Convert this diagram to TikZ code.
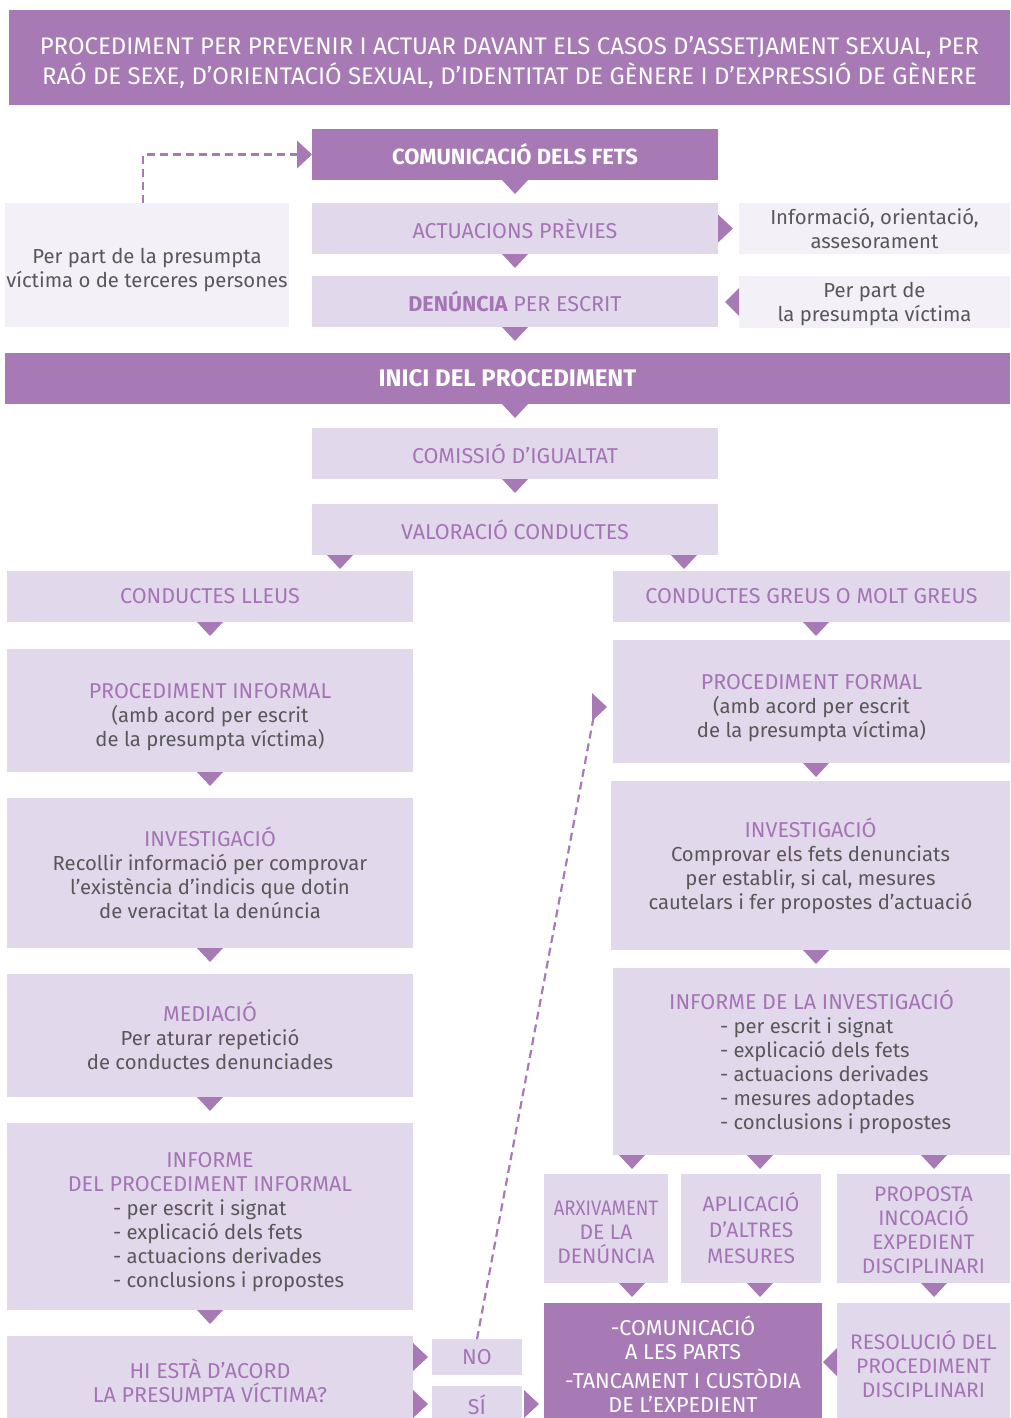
\documentclass[tikz,border=0pt]{standalone}
\usepackage{fontspec}
\usepackage{graphicx}
\setmainfont{Fira Sans}
\definecolor{dk}{RGB}{167,122,181}
\definecolor{lt}{RGB}{226,216,236}
\definecolor{pl}{RGB}{243,240,248}
\definecolor{gt}{RGB}{88,88,88}
\definecolor{pt}{RGB}{164,116,180}
\newcommand\hd[1]{{\color{pt}\fontsize{21.5}{24}\selectfont #1}}
\newcommand\hs[1]{{\color{pt}\fontsize{21}{24}\selectfont #1}}
\newcommand\lstL[1]{\makebox[194pt][l]{#1}}
\newcommand\lstR[1]{\makebox[183pt][l]{#1}}
\begin{document}
\begin{tikzpicture}[x=1pt,y=-1pt,
  box/.style={inner sep=0pt, outer sep=0pt, align=center, font=\fontsize{20.3}{24}\selectfont, text=gt},
  lab/.style={inner sep=0pt, outer sep=0pt, align=center, font=\fontsize{20.3}{24}\selectfont, text=gt},
  darkbox/.style={box, fill=dk, text=white},
  litebox/.style={box, fill=lt},
  palebox/.style={box, fill=pl},
  dashline/.style={draw=dk, line width=2.2pt, dash pattern=on 8pt off 5pt},
  tdown/.pic={\fill[dk] (-13,0) -- (13,0) -- (0,14) -- cycle;},
  tright/.pic={\fill[dk] (0,-14) -- (0,14) -- (15,0) -- cycle;},
  tleft/.pic={\fill[dk] (0,-14) -- (0,14) -- (-14,0) -- cycle;},
]
\useasboundingbox (0,0) rectangle (1010,1418);

% title
\node[darkbox, minimum width=1001pt, minimum height=95pt,
  label={[lab, text=white, font=\fontsize{24}{30}\selectfont, yshift=-5pt]center:{PROCEDIMENT PER  PREVENIR I ACTUAR DAVANT ELS CASOS D’ASSETJAMENT SEXUAL, PER\\RAÓ DE SEXE, D’ORIENTACIÓ SEXUAL, D’IDENTITAT DE GÈNERE I D’EXPRESSIÓ DE GÈNERE}}]
  (title) at (509.5,57.5) {};

% top block
\node[darkbox, minimum width=406pt, minimum height=51pt, font=\fontsize{22}{24}\selectfont\bfseries] (com) at (515,154.5) {COMUNICACIÓ DELS FETS};
\node[litebox, minimum width=406pt, minimum height=51pt] (act) at (515,228.5) {\hd{ACTUACIONS PRÈVIES}};
\node[litebox, minimum width=406pt, minimum height=51pt] (den) at (515,301.5) {\hd{{\bfseries DENÚNCIA} PER ESCRIT}};
\node[palebox, minimum width=284pt, minimum height=124pt,
  label={[lab, yshift=-5pt]center:{Per part de la presumpta\\víctima o de terceres persones}}] (per) at (147,265) {};
\node[palebox, minimum width=271pt, minimum height=51pt] (inf) at (874.5,228.5) {Informació, orientació,\\assesorament};
\node[palebox, minimum width=271pt, minimum height=52pt,
  label={[lab, yshift=-2pt]center:{Per part de\\la presumpta víctima}}] (ppv) at (874.5,302) {};

\node[darkbox, minimum width=1005pt, minimum height=51pt, font=\fontsize{24}{24}\selectfont\bfseries] (inici) at (507.5,378.5) {INICI DEL PROCEDIMENT};
\node[litebox, minimum width=406pt, minimum height=51pt] (comi) at (515,453.5) {\hd{COMISSIÓ D’IGUALTAT}};
\node[litebox, minimum width=406pt, minimum height=51pt] (val) at (515,529.5) {\hd{VALORACIÓ CONDUCTES}};

% left column
\node[litebox, minimum width=406pt, minimum height=51pt] (lleus) at (210,596.5) {\hd{CONDUCTES LLEUS}};
\node[litebox, minimum width=406pt, minimum height=123pt,
  label={[lab, yshift=-7pt]center:{\hd{PROCEDIMENT INFORMAL}\\(amb acord per escrit\\de la presumpta víctima)}}] (pinf) at (210,710.5) {};
\node[litebox, minimum width=406pt, minimum height=150pt] (inv1) at (210,873) {\hd{INVESTIGACIÓ}\\Recollir informació per comprovar\\l’existència d’indicis que dotin\\de veracitat la denúncia};
\node[litebox, minimum width=406pt, minimum height=123pt] (med) at (210,1035.5) {\hd{MEDIACIÓ}\\Per aturar repetició\\de conductes denunciades};
\node[litebox, minimum width=406pt, minimum height=187pt,
  label={[lab, yshift=-6pt]center:{\hd{INFORME}\\\hd{DEL PROCEDIMENT INFORMAL}\\\lstL{- per escrit i signat}\\\lstL{- explicació dels fets}\\\lstL{- actuacions derivades}\\\lstL{- conclusions i propostes}}}] (infp) at (210,1216.5) {};
\node[litebox, minimum width=406pt, minimum height=90pt] (acord) at (210,1381) {\hd{HI ESTÀ D’ACORD}\\\hd{LA PRESUMPTA VÍCTIMA?}};
\node[litebox, minimum width=90pt, minimum height=36pt] (no) at (477,1357) {\hd{NO}};
\node[litebox, minimum width=90pt, minimum height=38pt] (si) at (477,1405) {\hd{SÍ}};

% right column
\node[litebox, minimum width=397pt, minimum height=51pt] (greus) at (811.5,596.5) {\hd{CONDUCTES GREUS O MOLT GREUS}};
\node[litebox, minimum width=397pt, minimum height=123pt,
  label={[lab, yshift=-7pt]center:{\hd{PROCEDIMENT FORMAL}\\(amb acord per escrit\\de la presumpta víctima)}}] (pfor) at (811.5,701.5) {};
\node[litebox, minimum width=399pt, minimum height=169pt] (inv2) at (810.5,865.5) {\hd{INVESTIGACIÓ}\\Comprovar els fets denunciats\\per establir, si cal, mesures\\cautelars i fer propostes d’actuació};
\node[litebox, minimum width=397pt, minimum height=187pt] (infi) at (811.5,1061.5) {\hd{INFORME DE LA INVESTIGACIÓ}\\\lstR{- per escrit i signat}\\\lstR{- explicació dels fets}\\\lstR{- actuacions derivades}\\\lstR{- mesures adoptades}\\\lstR{- conclusions i propostes}};
\node[litebox, minimum width=124pt, minimum height=109pt,
  label={[lab, yshift=-4pt]center:{\hs{\scalebox{0.88}[1]{ARXIVAMENT}}\\\hs{DE LA}\\\hs{DENÚNCIA}}}] (arx) at (606,1228.5) {};
\node[litebox, minimum width=140pt, minimum height=109pt] (apl) at (751,1228.5) {\hs{APLICACIÓ}\\[2pt]\hs{D’ALTRES}\\[2pt]\hs{MESURES}};
\node[litebox, minimum width=173pt, minimum height=109pt,
  label={[lab, yshift=-2pt]center:{\hs{PROPOSTA}\\\hs{INCOACIÓ}\\\hs{EXPEDIENT}\\\hs{DISCIPLINARI}}}] (prop) at (923.5,1228.5) {};
\node[darkbox, minimum width=278pt, minimum height=123pt, font=\fontsize{21.5}{24}\selectfont] (comu) at (683,1364.5) {-COMUNICACIÓ\\A LES PARTS\\[5pt]-TANCAMENT I CUSTÒDIA\\DE L’EXPEDIENT};
\node[litebox, minimum width=173pt, minimum height=123pt] (res) at (923.5,1364.5) {\hs{RESOLUCIÓ DEL}\\\hs{PROCEDIMENT}\\\hs{DISCIPLINARI}};

% down triangles
\pic at (com.south) {tdown};
\pic at (act.south) {tdown};
\pic at (den.south) {tdown};
\pic at (com |- inici.south) {tdown};
\pic at (comi.south) {tdown};
\pic at (340,0 |- val.south) {tdown};
\pic at (684,0 |- val.south) {tdown};
\pic at (lleus.south) {tdown};
\pic at (816,0 |- greus.south) {tdown};
\pic at (pinf.south) {tdown};
\pic at (816,0 |- pfor.south) {tdown};
\pic at (inv1.south) {tdown};
\pic at (816,0 |- inv2.south) {tdown};
\pic at (med.south) {tdown};
\pic at (infp.south) {tdown};
\pic at (632,0 |- infi.south) {tdown};
\pic at (760,0 |- infi.south) {tdown};
\pic at (934,0 |- infi.south) {tdown};
\pic at (632,0 |- arx.south) {tdown};
\pic at (760,0 |- apl.south) {tdown};
\pic at (934,0 |- prop.south) {tdown};

% side triangles
\pic at (act.east) {tright};
\pic at (ppv.west) {tleft};
\pic at (acord.east |- no.center) {tright};
\pic at (413,1404) {tright};
\pic at (524,1404) {tright};
\pic at (res.west |- 0,1362) {tleft};

% dashed connectors
\draw[dashline] ([xshift=-4pt]per.north) |- ([xshift=-15pt]com.west);
\pic at ([xshift=-15pt]com.west) {tright};
\coordinate (fa) at (592,707);
\draw[dashline] (no.north) -- ([xshift=2pt,yshift=-8pt]fa);
\pic at (fa) {tright};
\end{tikzpicture}
\end{document}
